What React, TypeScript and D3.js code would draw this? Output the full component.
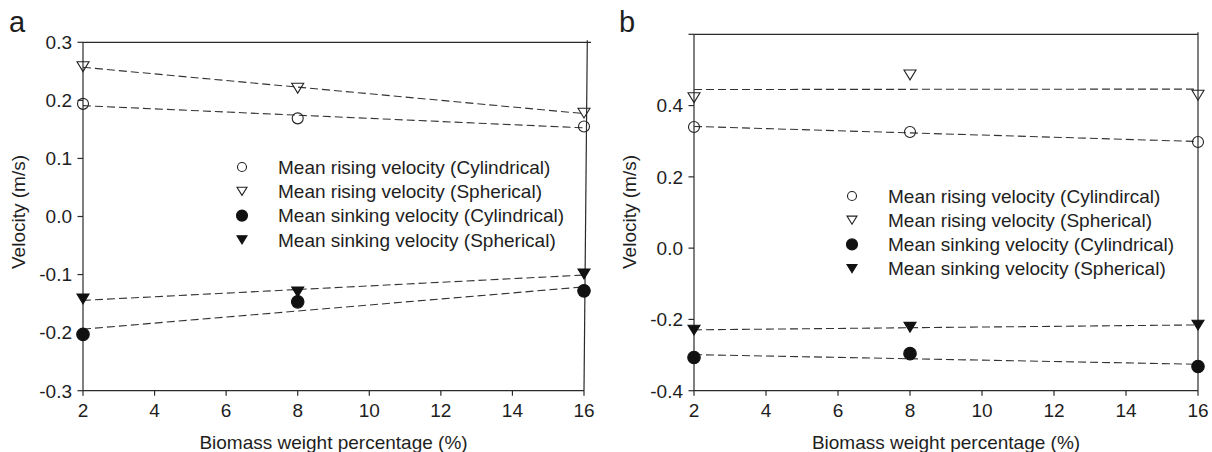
import React from "react";
import * as d3 from "d3";

// ---------- data ----------
const xValues = [2, 8, 16];
const xTicks = [2, 4, 6, 8, 10, 12, 14, 16];

const aYTicks = [-0.3, -0.2, -0.1, 0.0, 0.1, 0.2, 0.3];
const aRisingCyl = [0.194, 0.169, 0.155];
const aRisingSph = [0.258, 0.221, 0.178];
const aSinkingCyl = [-0.203, -0.147, -0.128];
const aSinkingSph = [-0.142, -0.13, -0.099];
const aLegend = [
  "Mean rising velocity (Cylindrical)",
  "Mean rising velocity (Spherical)",
  "Mean sinking velocity (Cylindrical)",
  "Mean sinking velocity (Spherical)",
];

const bYTicks = [-0.4, -0.2, 0.0, 0.2, 0.4, 0.6];
const bYTickLabels = ["-0.4", "-0.2", "0.0", "0.2", "0.4", ""];
const bRisingCyl = [0.34, 0.326, 0.298];
const bRisingSph = [0.422, 0.486, 0.429];
const bSinkingCyl = [-0.307, -0.296, -0.332];
const bSinkingSph = [-0.23, -0.222, -0.216];
const bLegend = [
  "Mean rising velocity (Cylindircal)",
  "Mean rising velocity (Spherical)",
  "Mean sinking velocity (Cylindrical)",
  "Mean sinking velocity (Spherical)",
];

const xTitle = "Biomass weight percentage (%)";
const yTitle = "Velocity (m/s)";

// ---------- styling ----------
const FONT = "'Liberation Sans', Arial, Helvetica, sans-serif";
const AXIS = "#2a2a2a";
const DASH = "#333";
const TEXT = "#1e1e1e";
const FS = 19;

type Marker = "openCircle" | "openTri" | "fillCircle" | "fillTri";
const markers: Marker[] = ["openCircle", "openTri", "fillCircle", "fillTri"];

function fit(xs: number[], ys: number[]) {
  const mx = d3.mean(xs)!;
  const my = d3.mean(ys)!;
  let sxy = 0, sxx = 0;
  xs.forEach((x, i) => {
    sxy += (x - mx) * (ys[i] - my);
    sxx += (x - mx) * (x - mx);
  });
  const b = sxy / sxx;
  return (x: number) => my + b * (x - mx);
}

function MarkerShape({ kind, cx, cy, size }: { kind: Marker; cx: number; cy: number; size: number }) {
  const r = size / 2;
  if (kind === "openCircle" || kind === "fillCircle") {
    const filled = kind === "fillCircle";
    return (
      <circle
        cx={cx}
        cy={cy}
        r={filled ? r : r - 0.5}
        fill={filled ? "#111" : "none"}
        stroke={filled ? "#111" : "#222"}
        strokeWidth={1.1}
      />
    );
  }
  const filled = kind === "fillTri";
  const w = size;
  const h = size * 0.82;
  const d = `M${cx - w / 2},${cy - h / 2}L${cx + w / 2},${cy - h / 2}L${cx},${cy + h / 2}Z`;
  return <path d={d} fill={filled ? "#111" : "none"} stroke={filled ? "#111" : "#222"} strokeWidth={1.1} />;
}

interface PanelProps {
  label: string;
  labelX: number;
  left: number;
  right: number;
  top: number;
  bottom: number;
  yDomain: [number, number];
  yTicks: number[];
  yTickLabels?: string[];
  series: number[][];
  legend: string[];
  legendX: number;
  legendY: number;
  legendStep: number;
  rightTopX: number;
  topLineEnd: number;
}

function Panel(p: PanelProps) {
  const x = d3.scaleLinear().domain([2, 16]).range([p.left, p.right]);
  const y = d3.scaleLinear().domain(p.yDomain).range([p.bottom, p.top]);
  const fmt = (v: number) => d3.format(".1f")(v).replace("\u2212", "-");

  return (
    <g fontFamily={FONT} fill={TEXT}>
      <text x={p.labelX} y={32} fontSize={29} fill={TEXT}>
        {p.label}
      </text>
      {/* frame */}
      <line x1={p.left} y1={p.top} x2={p.left} y2={p.bottom} stroke={AXIS} strokeWidth={1.2} />
      <line x1={p.left} y1={p.bottom} x2={p.right} y2={p.bottom} stroke={AXIS} strokeWidth={1.2} />
      <line x1={p.left} y1={p.top} x2={p.topLineEnd} y2={p.top} stroke={AXIS} strokeWidth={1.2} />
      <line x1={p.rightTopX} y1={p.top - 2} x2={p.right} y2={p.bottom} stroke={AXIS} strokeWidth={1.2} />
      {/* y ticks */}
      {p.yTicks.map((t, i) => (
        <g key={"yt" + i}>
          <line x1={p.left - 5.5} x2={p.left} y1={y(t)} y2={y(t)} stroke={AXIS} strokeWidth={1.2} />
          <text x={p.left - 11} y={y(t)} dy="0.36em" textAnchor="end" fontSize={FS}>
            {p.yTickLabels ? p.yTickLabels[i] : fmt(t)}
          </text>
        </g>
      ))}
      {/* x ticks */}
      {xTicks.map((t) => (
        <g key={"xt" + t}>
          <line x1={x(t)} x2={x(t)} y1={p.bottom} y2={p.bottom + 5} stroke={AXIS} strokeWidth={1.2} />
          <text x={x(t)} y={417} textAnchor="middle" fontSize={FS}>
            {t}
          </text>
        </g>
      ))}
      <text x={(p.left + p.right) / 2} y={449} textAnchor="middle" fontSize={FS}>
        {xTitle}
      </text>
      <text
        transform={`translate(${p.left - 58},${212}) rotate(-90)`}
        textAnchor="middle"
        fontSize={FS}
      >
        {yTitle}
      </text>
      {/* regression lines */}
      {p.series.map((s, i) => {
        const f = fit(xValues, s);
        const gen = d3
          .line<number>()
          .x((d) => x(d))
          .y((d) => y(f(d)));
        return (
          <path
            key={"l" + i}
            d={gen([2, 16]) || ""}
            fill="none"
            stroke={DASH}
            strokeWidth={1.1}
            strokeDasharray="8,4"
          />
        );
      })}
      {/* markers */}
      {p.series.map((s, i) =>
        s.map((v, j) => (
          <MarkerShape
            key={`m${i}-${j}`}
            kind={markers[i]}
            cx={x(xValues[j])}
            cy={y(v)}
            size={markers[i] === "fillCircle" ? 12.5 : 12}
          />
        ))
      )}
      {/* legend */}
      {p.legend.map((t, i) => {
        const ly = p.legendY + i * p.legendStep;
        const k = markers[i];
        const sz = k === "fillCircle" ? 11 : 10;
        return (
          <g key={"lg" + i}>
            <MarkerShape kind={k} cx={p.legendX} cy={ly} size={sz} />
            <text x={p.legendX + 36} y={ly} dy="0.36em" fontSize={FS}>
              {t}
            </text>
          </g>
        );
      })}
    </g>
  );
}

export default function App() {
  return (
    <svg
      width={1212}
      height={452}
      style={{ position: "absolute", left: 0, top: 0, background: "#fff" }}
    >
      <rect x={0} y={0} width={1212} height={452} fill="#fff" />
      <Panel
        label="a"
        labelX={9}
        left={83}
        right={584}
        top={42.3}
        bottom={390.7}
        yDomain={[-0.3, 0.3]}
        yTicks={aYTicks}
        series={[aRisingCyl, aRisingSph, aSinkingCyl, aSinkingSph]}
        legend={aLegend}
        legendX={242}
        legendY={167}
        legendStep={24.3}
        rightTopX={587.3}
        topLineEnd={591}
      />
      <Panel
        label="b"
        labelX={619}
        left={694}
        right={1198}
        top={34.3}
        bottom={390.7}
        yDomain={[-0.4, 0.6]}
        yTicks={bYTicks}
        yTickLabels={bYTickLabels}
        series={[bRisingCyl, bRisingSph, bSinkingCyl, bSinkingSph]}
        legend={bLegend}
        legendX={852}
        legendY={196}
        legendStep={24.2}
        rightTopX={1198}
        topLineEnd={1198}
      />
    </svg>
  );
}
